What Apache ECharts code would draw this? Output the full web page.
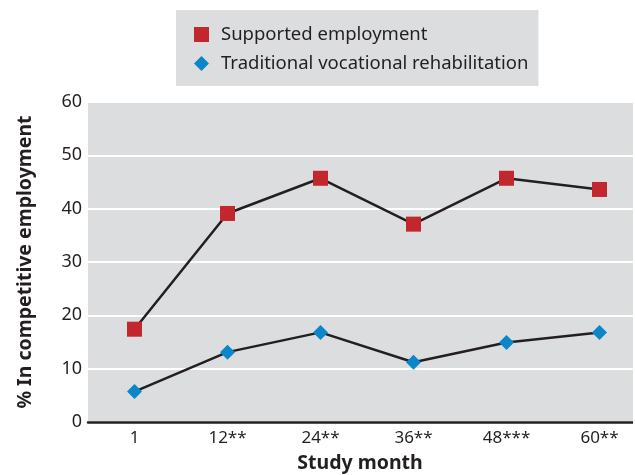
<!DOCTYPE html>
<html>
<head>
<meta charset="utf-8">
<script src="https://cdn.jsdelivr.net/npm/echarts@6/dist/echarts.min.js"></script>
<style>
  html, body { margin: 0; padding: 0; background: #ffffff; }
  #chart { width: 635px; height: 475px; }
</style>
</head>
<body>
<div id="chart"></div>
<script>
// Study months (asterisks mark significance levels)
const months = ['1', '12**', '24**', '36**', '48***', '60**'];
// Percentage of participants in competitive employment
const supportedEmployment = [17.4, 39.1, 45.7, 37.1, 45.7, 43.6];
const traditionalVocRehab = [5.7, 13.1, 16.8, 11.2, 14.9, 16.8];
const yTicks = { min: 0, max: 60, interval: 10 };

const FONT = '"Noto Sans", "Open Sans", sans-serif';
const INK = '#231f20';

const chart = echarts.init(document.getElementById('chart'), null, { renderer: 'canvas' });

chart.setOption({
  backgroundColor: '#ffffff',
  animation: false,
  textStyle: { fontFamily: FONT, color: INK },
  grid: {
    left: 88, top: 102, width: 558, height: 320,
    outerBoundsMode: 'none',
    containLabel: false,
    show: true, backgroundColor: '#dcdddf', borderWidth: 0
  },
  legend: {
    orient: 'vertical',
    left: 176, top: 10,
    backgroundColor: '#dcdddf',
    padding: [15, 10, 13, 18],
    itemWidth: 15, itemHeight: 15,
    itemGap: 10,
    textStyle: { fontFamily: FONT, fontSize: 18.5, color: INK, padding: [0, 0, 0, 7] },
    data: [
      { name: 'Supported employment', icon: 'rect' },
      { name: 'Traditional vocational rehabilitation', icon: 'diamond' }
    ]
  },
  xAxis: {
    type: 'category',
    data: months,
    boundaryGap: true,
    axisLine: { show: true, lineStyle: { color: INK, width: 2.5 } },
    axisTick: { show: false },
    axisLabel: { fontSize: 17, color: INK, margin: 8, fontFamily: FONT },
    name: 'Study month',
    nameLocation: 'middle',
    nameGap: 31,
    nameTextStyle: { fontSize: 19.5, fontWeight: 'bold', color: INK, fontFamily: FONT, padding: [0, 14, 0, 0] }
  },
  yAxis: {
    type: 'value',
    min: yTicks.min, max: yTicks.max, interval: yTicks.interval,
    axisLine: { show: false },
    axisTick: { show: false },
    splitLine: { show: true, lineStyle: { color: '#ffffff', width: 2 } },
    axisLabel: { fontSize: 18, color: INK, margin: 6, fontFamily: FONT },
    name: '% In competitive employment',
    nameLocation: 'middle',
    nameGap: 53,
    nameTextStyle: { fontSize: 19.5, fontWeight: 'bold', color: INK, fontFamily: FONT }
  },
  series: [
    {
      name: 'Supported employment',
      type: 'line',
      data: supportedEmployment,
      symbol: 'rect', symbolSize: 15,
      itemStyle: { color: '#c1272d' },
      lineStyle: { color: INK, width: 2.5 },
      z: 3
    },
    {
      name: 'Traditional vocational rehabilitation',
      type: 'line',
      data: traditionalVocRehab,
      symbol: 'diamond', symbolSize: 15,
      itemStyle: { color: '#0a86c9' },
      lineStyle: { color: INK, width: 2.5 },
      z: 3
    }
  ],
  graphic: [
    // white margin strip at the right edge of the plotting panel
    { type: 'rect', right: 0, top: 90, shape: { width: 2, height: 340 }, style: { fill: '#ffffff' }, z: 100 }
  ]
});
</script>
</body>
</html>
